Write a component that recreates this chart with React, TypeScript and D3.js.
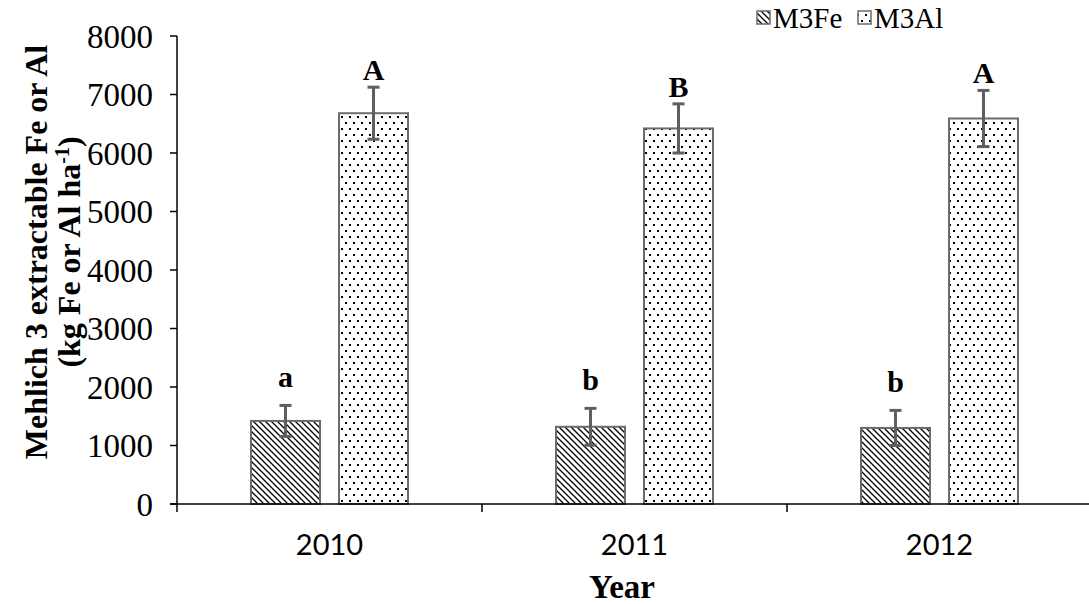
import React from "react";
import * as d3 from "d3";

const years = ["2010", "2011", "2012"];
const seriesNames = ["M3Fe", "M3Al"];
const feMeans = [1420, 1320, 1300];
const feErrors = [265, 315, 300];
const alMeans = [6680, 6420, 6590];
const alErrors = [445, 420, 480];
const feLetters = ["a", "b", "b"];
const alLetters = ["A", "B", "A"];
const yTicks = [0, 1000, 2000, 3000, 4000, 5000, 6000, 7000, 8000];

const W = 1089;
const H = 604;
const M = { left: 177, top: 36 };
const serif = "'Liberation Serif', 'Times New Roman', serif";
const sans = "Lato, 'Open Sans', sans-serif";
const barStroke = "#6b6b6b";
const errColor = "#5f5f5f";

export default function App() {
  const x = d3.scaleBand<string>().domain(years).range([M.left, M.left + 915]);
  const y = d3.scaleLinear().domain([0, 8000]).range([504, M.top]);
  const barW = 69;
  const gap = 19;

  const groups = years.map((yr, i) => ({
    yr,
    center: (x(yr) as number) + x.bandwidth() / 2,
    bars: [
      { key: "fe", v: feMeans[i], e: feErrors[i], letter: feLetters[i], fill: "url(#hatch)" },
      { key: "al", v: alMeans[i], e: alErrors[i], letter: alLetters[i], fill: "url(#dots)" },
    ],
  }));

  return (
    <svg
      width={W}
      height={H}
      style={{ position: "absolute", left: 0, top: 0, display: "block", background: "#fff" }}
    >
      <defs>
        <pattern id="hatch" patternUnits="userSpaceOnUse" width={6} height={6}>
          <rect width={6} height={6} fill="#fff" />
          <path d="M-1,-1 L7,7 M-1,5 L1,7 M5,-1 L7,1" stroke="#000" strokeWidth={1.3} />
        </pattern>
        <pattern id="dots" patternUnits="userSpaceOnUse" width={8} height={12}>
          <rect width={8} height={12} fill="#fff" />
          <rect x={1} y={2} width={2} height={2} fill="#000" />
          <rect x={5} y={8} width={2} height={2} fill="#000" />
        </pattern>
      </defs>

      {/* bars, error bars and significance letters */}
      {groups.map((g) =>
        g.bars.map((b, j) => {
          const left = j === 0 ? g.center - gap / 2 - barW : g.center + gap / 2;
          const cx = left + barW / 2;
          const top = y(b.v);
          const eTop = y(b.v + b.e);
          const eBot = y(b.v - b.e);
          return (
            <g key={g.yr + b.key}>
              <rect
                x={left}
                y={top}
                width={barW}
                height={y(0) - top}
                fill={b.fill}
                stroke={barStroke}
                strokeWidth={2}
              />
              <line x1={cx} x2={cx} y1={eTop} y2={eBot} stroke={errColor} strokeWidth={3} />
              <line x1={cx - 6} x2={cx + 6} y1={eTop} y2={eTop} stroke={errColor} strokeWidth={3} />
              <line x1={cx - 6} x2={cx + 6} y1={eBot} y2={eBot} stroke={errColor} strokeWidth={3} />
              <text
                x={cx}
                y={eTop - (j === 0 ? 18 : 7)}
                textAnchor="middle"
                fontFamily={serif}
                fontWeight="bold"
                fontSize={30}
              >
                {b.letter}
              </text>
            </g>
          );
        })
      )}

      {/* y axis */}
      <line x1={M.left} x2={M.left} y1={y(8000)} y2={y(0) + 8} stroke="#000" strokeWidth={1.5} />
      {yTicks.map((t) => (
        <g key={t}>
          <line x1={M.left - 7} x2={M.left} y1={y(t)} y2={y(t)} stroke="#000" strokeWidth={1.5} />
          <text
            x={153}
            y={y(t)}
            dy="0.35em"
            textAnchor="end"
            fontFamily={serif}
            fontSize={33}
          >
            {t}
          </text>
        </g>
      ))}

      {/* x axis */}
      <line x1={M.left - 7} x2={W} y1={y(0)} y2={y(0)} stroke="#000" strokeWidth={1.5} />
      {years.slice(1).map((yr) => (
        <line
          key={yr}
          x1={x(yr) as number}
          x2={x(yr) as number}
          y1={y(0)}
          y2={y(0) + 8}
          stroke="#000"
          strokeWidth={1.5}
        />
      ))}
      {groups.map((g) => (
        <text
          key={g.yr}
          x={g.center}
          y={555}
          textAnchor="middle"
          fontFamily={sans}
          fontSize={29}
        >
          {g.yr}
        </text>
      ))}

      {/* axis titles */}
      <text
        x={622}
        y={598}
        textAnchor="middle"
        fontFamily={serif}
        fontWeight="bold"
        fontSize={33}
      >
        Year
      </text>
      <g transform={`translate(47, ${(y(0) + y(8000)) / 2 - 18}) rotate(-90)`}>
        <text textAnchor="middle" fontFamily={serif} fontWeight="bold" fontSize={32}>
          Mehlich 3 extractable Fe or Al
        </text>
        <text y={33} textAnchor="middle" fontFamily={serif} fontWeight="bold" fontSize={32}>
          (kg Fe or Al ha
          <tspan dy={-11} fontSize={20}>-1</tspan>
          <tspan dy={11}>)</tspan>
        </text>
      </g>

      {/* legend */}
      {seriesNames.map((name, i) => {
        const lx = i === 0 ? 757 : 858;
        return (
          <g key={name}>
            <rect
              x={lx}
              y={11}
              width={13}
              height={13}
              fill={i === 0 ? "url(#hatch)" : "url(#dots)"}
              stroke={barStroke}
              strokeWidth={1.5}
            />
            <text x={lx + 16} y={28} fontFamily={serif} fontSize={29}>
              {name}
            </text>
          </g>
        );
      })}
    </svg>
  );
}
